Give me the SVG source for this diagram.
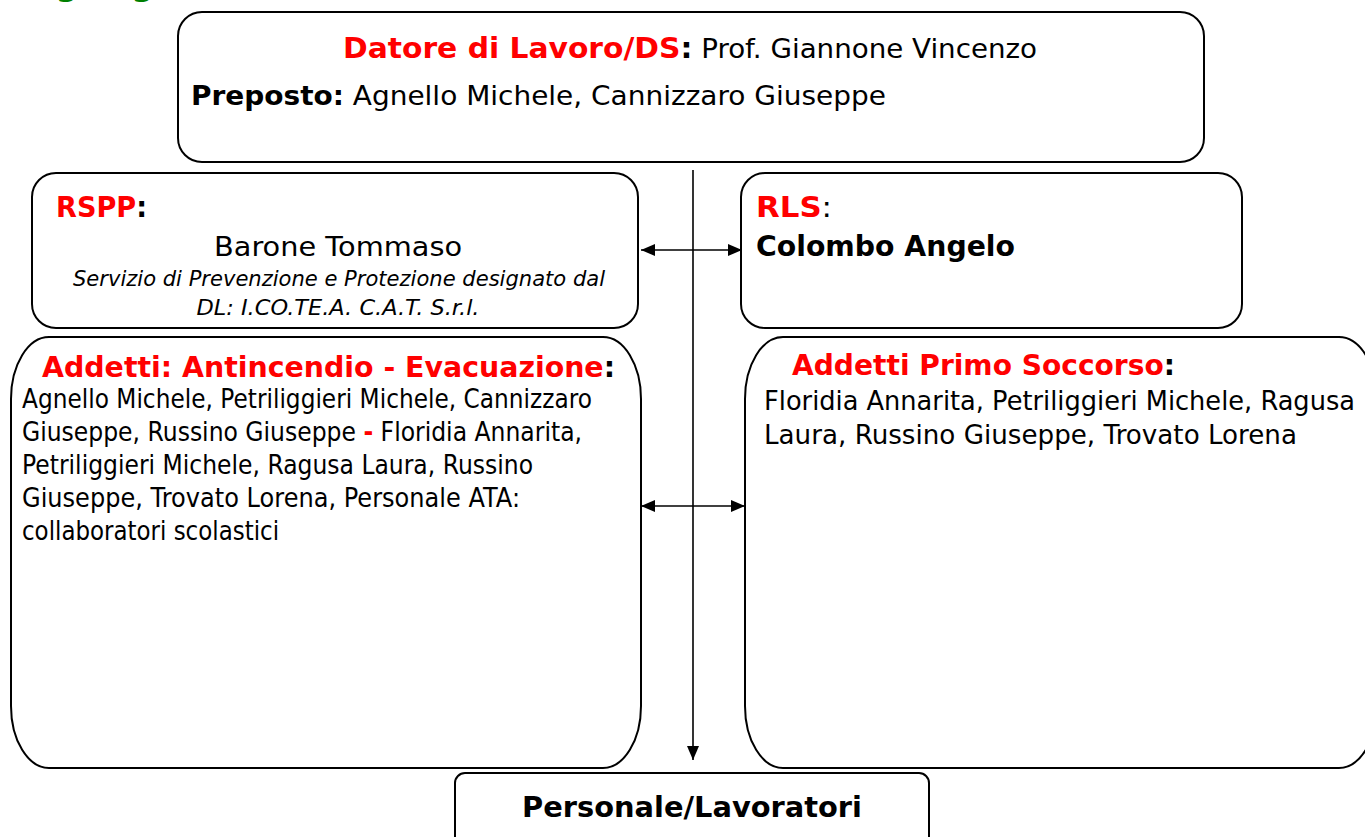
<svg xmlns="http://www.w3.org/2000/svg" width="1365" height="837" viewBox="0 0 1365 837">
<style>
.box{fill:#fff;stroke:#000;stroke-width:2}
.t{font-family:"DejaVu Sans","Liberation Sans",sans-serif;fill:#000}
.b{font-weight:bold}
.r{fill:#ff0000}
.h{font-size:29px;font-weight:bold}
.n{font-size:27px}
.c{stroke:#000;stroke-width:1.6;fill:none}
</style>
<defs>
<marker id="ah" markerUnits="userSpaceOnUse" markerWidth="16" markerHeight="14" refX="14" refY="6" orient="auto-start-reverse">
<path d="M0,0 L14,6 L0,12 Z" fill="#000"/>
</marker>
</defs>
<text class="t" x="14" y="-4" style="font-size:31px;font-weight:bold;fill:#008000">Organigramma</text>
<g id="connectors">
<line class="c" x1="693" y1="170" x2="693" y2="760" marker-end="url(#ah)"/>
<line class="c" x1="641" y1="250" x2="742" y2="250" marker-start="url(#ah)" marker-end="url(#ah)"/>
<line class="c" x1="641" y1="506" x2="745" y2="506" marker-start="url(#ah)" marker-end="url(#ah)"/>
</g>
<g id="datore">
<rect class="box" x="178" y="12" width="1026" height="150" rx="24" ry="24"/>
<text class="t n" x="343" y="58" textLength="694" lengthAdjust="spacingAndGlyphs"><tspan class="r b" style="font-size:29px">Datore di Lavoro/DS</tspan><tspan class="b" style="font-size:29px">:</tspan> Prof. Giannone Vincenzo</text>
<text class="t n" x="191" y="105" textLength="695" lengthAdjust="spacingAndGlyphs"><tspan class="b">Preposto:</tspan> Agnello Michele, Cannizzaro Giuseppe</text>
</g>
<g id="rspp">
<rect class="box" x="32" y="173" width="606" height="155" rx="24" ry="24"/>
<text class="t h" x="56" y="217" textLength="91" lengthAdjust="spacingAndGlyphs"><tspan class="r">RSPP</tspan>:</text>
<text class="t n" x="338" y="256" text-anchor="middle" textLength="248" lengthAdjust="spacingAndGlyphs">Barone Tommaso</text>
<text class="t" x="339" y="286" text-anchor="middle" style="font-size:22px;font-style:italic" textLength="532" lengthAdjust="spacingAndGlyphs">Servizio di Prevenzione e Protezione designato dal</text>
<text class="t" x="338" y="315" text-anchor="middle" style="font-size:22px;font-style:italic" textLength="283" lengthAdjust="spacingAndGlyphs">DL: I.CO.TE.A. C.A.T. S.r.l.</text>
</g>
<g id="rls">
<rect class="box" x="741" y="173" width="501" height="155" rx="24" ry="24"/>
<text class="t h" x="756" y="217" textLength="76" lengthAdjust="spacingAndGlyphs"><tspan class="r">RLS</tspan><tspan style="font-weight:normal">:</tspan></text>
<text class="t h" x="756" y="256" textLength="259" lengthAdjust="spacingAndGlyphs">Colombo Angelo</text>
</g>
<g id="antincendio">
<rect class="box" x="11" y="337" width="630" height="431" rx="38" ry="62"/>
<text class="t h" x="42" y="377" textLength="573" lengthAdjust="spacingAndGlyphs"><tspan class="r">Addetti: Antincendio - Evacuazione</tspan>:</text>
<text class="t n" x="22" y="408" textLength="570" lengthAdjust="spacingAndGlyphs">Agnello Michele, Petriliggieri Michele, Cannizzaro</text>
<text class="t n" x="22" y="441" textLength="560" lengthAdjust="spacingAndGlyphs">Giuseppe, Russino Giuseppe <tspan class="r b">-</tspan> Floridia Annarita,</text>
<text class="t n" x="22" y="474" textLength="511" lengthAdjust="spacingAndGlyphs">Petriliggieri Michele, Ragusa Laura, Russino</text>
<text class="t n" x="22" y="507" textLength="498" lengthAdjust="spacingAndGlyphs">Giuseppe, Trovato Lorena, Personale ATA:</text>
<text class="t n" x="22" y="540" textLength="257" lengthAdjust="spacingAndGlyphs">collaboratori scolastici</text>
</g>
<g id="primosoccorso">
<rect class="box" x="745" y="337" width="632" height="431" rx="38" ry="62"/>
<text class="t h" x="792" y="375" textLength="383" lengthAdjust="spacingAndGlyphs"><tspan class="r">Addetti Primo Soccorso</tspan>:</text>
<text class="t n" x="764" y="410" textLength="591" lengthAdjust="spacingAndGlyphs">Floridia Annarita, Petriliggieri Michele, Ragusa</text>
<text class="t n" x="764" y="444" textLength="533" lengthAdjust="spacingAndGlyphs">Laura, Russino Giuseppe, Trovato Lorena</text>
</g>
<g id="personale">
<rect class="box" x="455" y="773" width="474" height="90" rx="10" ry="10"/>
<text class="t h" x="692" y="817" text-anchor="middle" textLength="340" lengthAdjust="spacingAndGlyphs">Personale/Lavoratori</text>
</g>
</svg>
